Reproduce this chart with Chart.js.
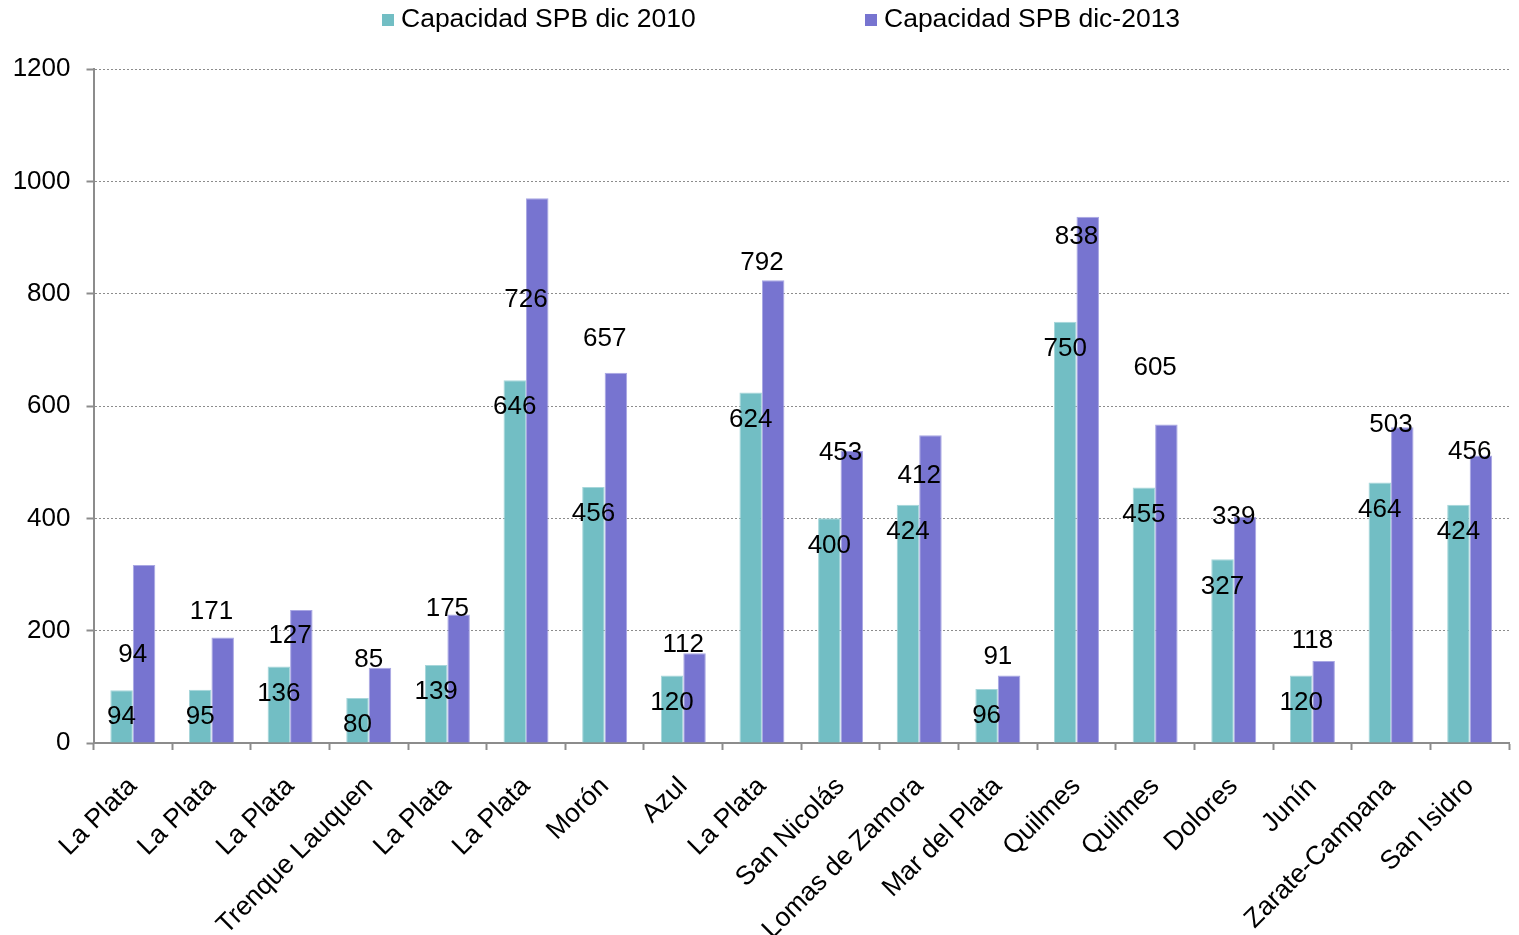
<!DOCTYPE html>
<html>
<head>
<meta charset="utf-8">
<title>Capacidad SPB</title>
<script src="https://cdn.jsdelivr.net/npm/chart.js@4"></script>
<style>
  html, body { margin: 0; padding: 0; background: #fff; }
  #wrap { position: relative; width: 1519px; height: 935px; }
  #legend {
    position: absolute; top: 0; left: 0; width: 1519px; height: 36px;
    font-family: "Liberation Sans", Arial, sans-serif; font-size: 26.5px; line-height: 36px; color: #000;
  }
  #legend .item { position: absolute; top: 0; white-space: nowrap; }
  #legend .box { display: inline-block; width: 12px; height: 12px; margin-right: 7px; vertical-align: 1px; }
</style>
</head>
<body>
<div id="wrap">
  <div id="legend"></div>
  <canvas id="chart"></canvas>
</div>
<script>
// Categories (x axis)
const CATEGORIES = [
  "La Plata", "La Plata", "La Plata", "Trenque Lauquen", "La Plata", "La Plata",
  "Morón", "Azul", "La Plata", "San Nicolás", "Lomas de Zamora", "Mar del Plata",
  "Quilmes", "Quilmes", "Dolores", "Junín", "Zarate-Campana", "San Isidro",
];

// Series values
const CAP_2010 = [94, 95, 136, 80, 139, 646, 456, 120, 624, 400, 424, 96, 750, 455, 327, 120, 464, 424];
const CAP_2013 = [317, 188, 237, 134, 229, 970, 659, 160, 824, 520, 548, 120, 937, 567, 403, 146, 562, 512];

// Data labels as printed on the chart for the 2013 series
const LABELS_2013 = [94, 171, 127, 85, 175, 726, 657, 112, 792, 453, 412, 91, 838, 605, 339, 118, 503, 456];

// Legend names
const SERIES_NAMES = ["Capacidad SPB dic 2010", "Capacidad SPB dic-2013"];

// Y axis ticks
const Y_MIN = 0;
const Y_MAX = 1200;
const Y_STEP = 200;

const COLORS = {
  teal:   "#72bec4",
  purple: "#7774d0",
  axis:   "#8c8c8c",
};
const FONT = "'Liberation Sans', Arial, sans-serif";

// Simple HTML legend (items are spaced far apart in the original)
const legendPos = [382, 865];
const legendColors = [COLORS.teal, COLORS.purple];
document.getElementById("legend").innerHTML = SERIES_NAMES.map((name, i) =>
  `<span class="item" style="left:${legendPos[i]}px"><span class="box" style="background:${legendColors[i]}"></span>${name}</span>`
).join("");

/**
 * Draw the value labels: 2010 just inside the top of its bar,
 * 2013 above its printed value, centred on the group.
 */
const valueLabels = {
  id: "valueLabels",
  afterDatasetsDraw(chart) {
    const ctx = chart.ctx;
    const y = chart.scales.y;
    const m0 = chart.getDatasetMeta(0).data;
    const m1 = chart.getDatasetMeta(1).data;
    ctx.save();
    ctx.font = "26px " + FONT;
    ctx.fillStyle = "#000";
    ctx.textAlign = "center";
    ctx.textBaseline = "middle";
    CAP_2010.forEach((v, i) => {
      ctx.fillText(String(v), m0[i].x, y.getPixelForValue(v) + 27);
    });
    LABELS_2013.forEach((v, i) => {
      const cx = (m0[i].x + m1[i].x) / 2;
      ctx.fillText(String(v), cx, y.getPixelForValue(v) - 35.5);
    });
    ctx.restore();
  },
};

new Chart(document.getElementById("chart"), {
  type: "bar",
  data: {
    labels: CATEGORIES,
    datasets: [
      {
        label: SERIES_NAMES[0],
        data: CAP_2010,
        backgroundColor: COLORS.teal,
        borderColor: "#a6d6da",
        borderWidth: 1,
        categoryPercentage: 0.572,
        barPercentage: 1.0,
      },
      {
        label: SERIES_NAMES[1],
        data: CAP_2013,
        backgroundColor: COLORS.purple,
        borderColor: "#a9a7e3",
        borderWidth: 1,
        categoryPercentage: 0.572,
        barPercentage: 1.0,
      },
    ],
  },
  options: {
    responsive: true,
    maintainAspectRatio: false,
    animation: false,
    layout: { padding: { top: 69, right: 10, left: 0, bottom: 0 } },
    plugins: {
      legend: { display: false },
      tooltip: { enabled: false },
    },
    scales: {
      x: {
        grid: {
          display: true,
          drawOnChartArea: false,
          drawTicks: true,
          tickLength: 7,
          color: COLORS.axis,
          tickWidth: 2,
          offset: true,
        },
        border: { display: true, color: COLORS.axis, width: 2 },
        ticks: {
          autoSkip: false,
          maxRotation: 45,
          minRotation: 45,
          padding: 21,
          color: "#000",
          font: { family: FONT, size: 26.5 },
        },
        afterFit: (scale) => { scale.height = 192; },
      },
      y: {
        min: Y_MIN,
        max: Y_MAX,
        grid: {
          color: COLORS.axis,
          lineWidth: 1,
          tickLength: 7,
          tickWidth: 2,
          tickBorderDash: [],
        },
        border: { display: true, color: COLORS.axis, width: 2, dash: [2, 2] },
        ticks: {
          stepSize: Y_STEP,
          padding: 16,
          color: "#000",
          font: { family: FONT, size: 26 },
          callback: (v) => String(v),
        },
        afterFit: (scale) => { scale.width = 93.5; },
      },
    },
  },
  plugins: [valueLabels],
});
</script>
</body>
</html>
